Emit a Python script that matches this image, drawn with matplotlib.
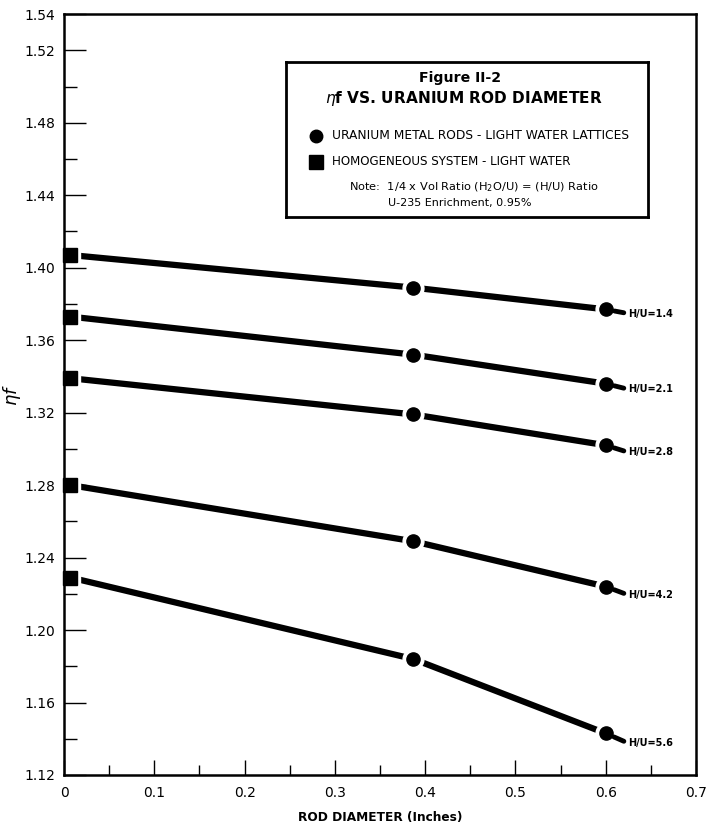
import numpy as np
import matplotlib.pyplot as plt

plt.rcParams['font.family'] = ['DejaVu Sans']

# eta*f
hu_labels = ['H/U=1.4', 'H/U=2.1', 'H/U=2.8', 'H/U=4.2', 'H/U=5.6']
homog_x = 0.007
homog_eta_f = [1.407, 1.373, 1.339, 1.280, 1.229]
rod_diam = [0.387, 0.600]
rod_eta_f_387 = [1.389, 1.352, 1.319, 1.249, 1.184]
rod_eta_f_600 = [1.377, 1.336, 1.302, 1.224, 1.143]

ytick_major = [1.12, 1.16, 1.20, 1.24, 1.28, 1.32, 1.36, 1.40, 1.44, 1.48, 1.52, 1.54]
ytick_minor = [1.14, 1.18, 1.22, 1.26, 1.30, 1.34, 1.38, 1.42, 1.46, 1.50]
xtick_major = [0, 0.1, 0.2, 0.3, 0.4, 0.5, 0.6, 0.7]
xtick_minor = [0.05, 0.15, 0.25, 0.35, 0.45, 0.55, 0.65]

fig = plt.figure(figsize=(7.08, 8.31), dpi=100)
ax = fig.add_axes([0.0904, 0.0674, 0.8926, 0.9157])

for i in range(len(hu_labels)):
    xs = [homog_x] + rod_diam
    ys = [homog_eta_f[i], rod_eta_f_387[i], rod_eta_f_600[i]]
    ax.plot(xs, ys, color='k', lw=4.5, solid_capstyle='butt', zorder=2)
    # white halo gives the gap between line and markers
    ax.plot(xs[:1], ys[:1], 's', ms=15, color='white', zorder=3)
    ax.plot(xs[1:], ys[1:], 'o', ms=15, color='white', zorder=3)
    ax.plot(xs[:1], ys[:1], 's', ms=10, color='k', zorder=4, clip_on=False)
    ax.plot(xs[1:], ys[1:], 'o', ms=9.5, color='k', zorder=4)
    ax.annotate(hu_labels[i], xy=(xs[-1], ys[-1]), xytext=(16, -3 - i),
                textcoords='offset points', fontsize=7, fontweight='bold',
                ha='left', va='center',
                arrowprops=dict(arrowstyle='-', lw=3.5, color='k',
                                shrinkA=1, shrinkB=6.5, relpos=(0, 0.5)))

ax.set_xlim(0, 0.7)
ax.set_ylim(1.12, 1.54)
ax.set_xticks(xtick_major)
ax.set_xticklabels(['0', '0.1', '0.2', '0.3', '0.4', '0.5', '0.6', '0.7'])
ax.set_xticks(xtick_minor, minor=True)
ax.set_yticks(ytick_major)
ax.set_yticklabels(['%.2f' % v for v in ytick_major])
ax.set_yticks(ytick_minor, minor=True)
ax.tick_params(axis='y', which='major', direction='in', length=16, width=1, pad=6, labelsize=10)
ax.tick_params(axis='y', which='minor', direction='in', length=9, width=1)
ax.tick_params(axis='x', which='major', direction='in', length=11, width=1, pad=8, labelsize=10)
ax.tick_params(axis='x', which='minor', direction='in', length=7, width=1)
for s in ax.spines.values():
    s.set_linewidth(1.8)
    s.set_zorder(5)

ax.set_xlabel('ROD DIAMETER (Inches)', fontsize=8.7, fontweight='bold', labelpad=8)
ax.set_ylabel(r'$\eta f$', fontsize=13)
ax.yaxis.set_label_coords(-0.065, 0.5)

# title box
box = fig.add_axes([0.404, 0.739, 0.511, 0.1865])
box.set_xlim(0, 1)
box.set_ylim(0, 1)
box.set_xticks([])
box.set_yticks([])
for s in box.spines.values():
    s.set_linewidth(2)
box.text(0.48, 0.895, 'Figure II-2', fontsize=10.2, fontweight='bold', ha='center', va='center')
box.text(0.49, 0.766, r'$\eta$f VS. URANIUM ROD DIAMETER', fontsize=11.1,
         fontweight='bold', ha='center', va='center')
box.plot(0.083, 0.523, 'o', ms=9, color='k')
box.plot(0.083, 0.355, 's', ms=10, color='k')
box.text(0.127, 0.523, 'URANIUM METAL RODS - LIGHT WATER LATTICES', fontsize=8.8, va='center')
box.text(0.127, 0.355, 'HOMOGENEOUS SYSTEM - LIGHT WATER', fontsize=8.6, va='center')
box.text(0.174, 0.19, r'Note:  1/4 x Vol Ratio (H$_2$O/U) = (H/U) Ratio', fontsize=8.2, va='center')
box.text(0.282, 0.09, 'U-235 Enrichment, 0.95%', fontsize=8.0, va='center')

fig.savefig('out.png', dpi=100)
